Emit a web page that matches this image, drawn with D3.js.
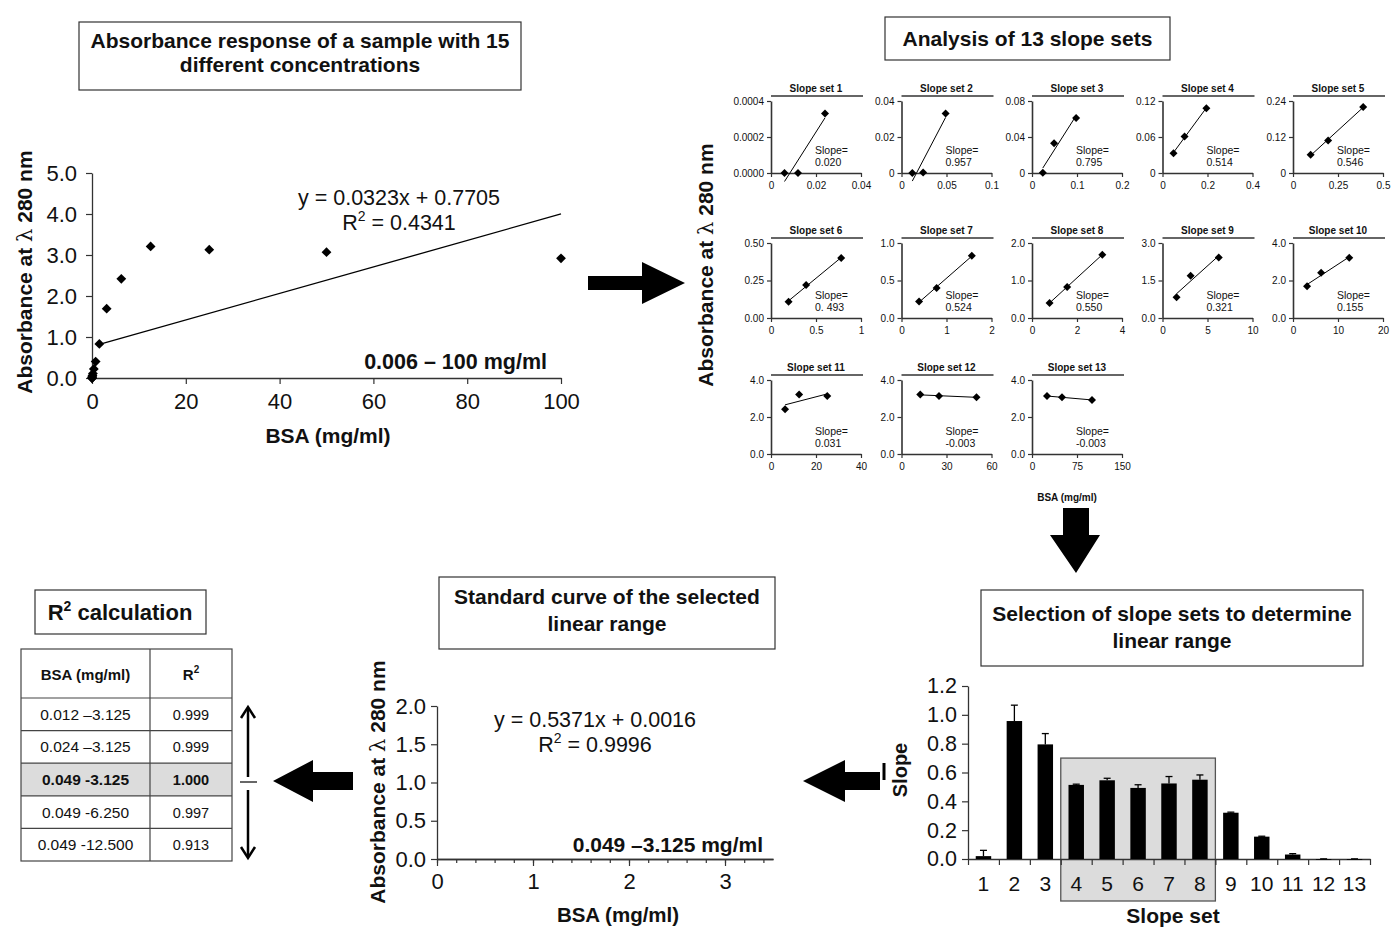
<!DOCTYPE html>
<html>
<head>
<meta charset="utf-8">
<script src="https://cdn.jsdelivr.net/npm/d3@7"></script>
<style>
body { margin: 0; background: #fff; }
svg { font-family: "Liberation Sans", Arial, sans-serif; }
</style>
</head>
<body>
<svg id="fig" width="1392" height="928"></svg>
<script>
// 15 BSA concentrations (mg/ml) and absorbance at 280 nm
var conc = [0.006, 0.012, 0.024, 0.049, 0.098, 0.195, 0.39, 0.78, 1.5625, 3.125, 6.25, 12.5, 25, 50, 100];
var absorbance = [0, 0, 0.00033, 0.033, 0.061, 0.108, 0.22, 0.40, 0.83, 1.69, 2.42, 3.21, 3.13, 3.07, 2.92];
var fullFit = {slope: 0.0323, intercept: 0.7705, from: 1.5625, to: 100};

// slope sets (3 consecutive points each)
var setNames = ["Slope set 1", "Slope set 2", "Slope set 3", "Slope set 4", "Slope set 5", "Slope set 6", "Slope set 7",
  "Slope set 8", "Slope set 9", "Slope set 10", "Slope set 11", "Slope set 12", "Slope set 13"];
var setSlopeText = ["0.020", "0.957", "0.795", "0.514", "0.546", "0. 493", "0.524", "0.550", "0.321", "0.155", "0.031", "-0.003", "-0.003"];
var setXMax = [0.04, 0.1, 0.2, 0.4, 0.5, 1, 2, 4, 10, 20, 40, 60, 150];
var setXTicks = [[0, 0.02, 0.04], [0, 0.05, 0.1], [0, 0.1, 0.2], [0, 0.2, 0.4], [0, 0.25, 0.5], [0, 0.5, 1], [0, 1, 2],
  [0, 2, 4], [0, 5, 10], [0, 10, 20], [0, 20, 40], [0, 30, 60], [0, 75, 150]];
var setYMax = [0.0004, 0.04, 0.08, 0.12, 0.24, 0.5, 1, 2, 3, 4, 4, 4, 4];
var setYTicks = [["0.0000", "0.0002", "0.0004"], ["0", "0.02", "0.04"], ["0", "0.04", "0.08"], ["0", "0.06", "0.12"],
  ["0", "0.12", "0.24"], ["0.00", "0.25", "0.50"], ["0.0", "0.5", "1.0"], ["0.0", "1.0", "2.0"], ["0.0", "1.5", "3.0"],
  ["0.0", "2.0", "4.0"], ["0.0", "2.0", "4.0"], ["0.0", "2.0", "4.0"], ["0.0", "2.0", "4.0"]];

// mean slope per set with error
var setIds = [1, 2, 3, 4, 5, 6, 7, 8, 9, 10, 11, 12, 13];
var meanSlope = [0.020, 0.957, 0.795, 0.514, 0.546, 0.493, 0.524, 0.550, 0.321, 0.155, 0.031, -0.003, -0.003];
var slopeErr = [0.04, 0.11, 0.075, 0.005, 0.014, 0.022, 0.048, 0.033, 0.004, 0.003, 0.006, 0.001, 0.001];
var selectedSets = [4, 8];

// standard curve of selected range
var stdFit = {slope: 0.5371, intercept: 0.0016, r2: "0.9996"};

// R2 table
var tableRanges = ["0.012 \u20133.125", "0.024 \u20133.125", "0.049 -3.125", "0.049 -6.250", "0.049 -12.500"];
var tableR2 = ["0.999", "0.999", "1.000", "0.997", "0.913"];
var bestRow = 2;

var svg = d3.select("#fig");
var ink = "#111", axisInk = "#333";

function styleAxis(sel, size) {
  sel.select(".domain").attr("stroke", axisInk).attr("stroke-width", 1.3);
  sel.selectAll(".tick line").attr("stroke", axisInk).attr("stroke-width", 1.2);
  sel.selectAll(".tick text").attr("font-size", size).attr("fill", ink).attr("font-family", "Liberation Sans, Arial, sans-serif");
}

function diamonds(g, pts, xs, ys, size) {
  g.selectAll(null).data(pts).enter().append("path")
    .attr("d", d3.symbol(d3.symbolSquare, size))
    .attr("transform", function(d) { return "translate(" + xs(d[0]) + "," + ys(d[1]) + ") rotate(45)"; })
    .attr("fill", "#000");
}

function textBox(x, y, w, h, lines, size, base, gap) {
  svg.append("rect").attr("x", x).attr("y", y).attr("width", w).attr("height", h)
    .attr("fill", "#fff").attr("stroke", "#333").attr("stroke-width", 1.2);
  lines.forEach(function(l, i) {
    svg.append("text").attr("x", x + w / 2).attr("y", base + i * gap).attr("text-anchor", "middle")
      .attr("font-size", size).attr("font-weight", "bold").attr("fill", ink).text(l);
  });
}

function blockArrow(pts) {
  svg.append("polygon").attr("points", pts.map(function(p) { return p.join(","); }).join(" ")).attr("fill", "#000");
}

function rotLabel(x, y, size) {
  var t = svg.append("text").attr("transform", "translate(" + x + "," + y + ") rotate(-90)")
    .attr("text-anchor", "middle").attr("font-size", size).attr("font-weight", "bold").attr("fill", ink);
  t.append("tspan").text("Absorbance at ");
  t.append("tspan").attr("font-weight", "normal").attr("font-family", "DejaVu Serif, serif").text("\u03bb");
  t.append("tspan").text(" 280 nm");
}

function r2Text(x, y, size, value) {
  var t = svg.append("text").attr("x", x).attr("y", y).attr("text-anchor", "middle").attr("font-size", size).attr("fill", ink);
  t.append("tspan").text("R");
  t.append("tspan").attr("dy", -9).attr("font-size", size * 0.65).text("2");
  t.append("tspan").attr("dy", 9).text(" = " + value);
}

// ---------- top-left: full range ----------
textBox(79, 22, 442, 68, ["Absorbance response of a sample with 15", "different concentrations"], 21, 48, 24);

var x1 = d3.scaleLinear().domain([0, 100]).range([92, 561]);
var y1 = d3.scaleLinear().domain([0, 5]).range([378, 173]);
svg.append("g").attr("transform", "translate(0,378)")
  .call(d3.axisBottom(x1).tickValues([0, 20, 40, 60, 80, 100]).tickSize(6).tickSizeOuter(0).tickPadding(9))
  .call(styleAxis, 22);
svg.append("g").attr("transform", "translate(92,0)")
  .call(d3.axisLeft(y1).tickValues([0, 1, 2, 3, 4, 5]).tickFormat(d3.format(".1f")).tickSize(6).tickSizeOuter(0).tickPadding(9))
  .call(styleAxis, 22);
svg.append("path")
  .attr("d", d3.line()([[x1(fullFit.from), y1(fullFit.slope * fullFit.from + fullFit.intercept)],
                        [x1(fullFit.to), y1(fullFit.slope * fullFit.to + fullFit.intercept)]]))
  .attr("stroke", "#000").attr("stroke-width", 1.3).attr("fill", "none");
diamonds(svg.append("g"), conc.map(function(c, i) { return [c, absorbance[i]]; }), x1, y1, 48);
svg.append("text").attr("x", 399).attr("y", 205).attr("text-anchor", "middle").attr("font-size", 21.5).attr("fill", ink)
  .text("y = " + fullFit.slope + "x + " + fullFit.intercept);
r2Text(399, 230, 21.5, "0.4341");
svg.append("text").attr("x", 547).attr("y", 369).attr("text-anchor", "end").attr("font-size", 21.5)
  .attr("font-weight", "bold").attr("fill", ink).text("0.006 \u2013 100 mg/ml");
svg.append("text").attr("x", 328).attr("y", 443).attr("text-anchor", "middle").attr("font-size", 21)
  .attr("font-weight", "bold").attr("fill", ink).text("BSA (mg/ml)");
rotLabel(32, 272, 21);

blockArrow([[588, 276], [642, 276], [642, 262], [685, 283], [642, 304], [642, 290], [588, 290]]);

// ---------- top-right: 13 slope sets ----------
textBox(885, 17, 285, 43, ["Analysis of 13 slope sets"], 21, 46, 0);
rotLabel(713, 265, 21);

var rowTop = [101, 243, 380], rowBottom = [173, 318, 454];
setNames.forEach(function(name, i) {
  var row = Math.floor(i / 5), col = i % 5;
  var left = 771 + col * 130.5, width = 90;
  var top = rowTop[row], bottom = rowBottom[row];
  var xs = d3.scaleLinear().domain([0, setXMax[i]]).range([left, left + width]);
  var ys = d3.scaleLinear().domain([0, setYMax[i]]).range([bottom, top]);
  var g = svg.append("g");
  var pts = conc.slice(i, i + 3).map(function(c, j) { return [c, absorbance[i + j]]; });

  g.append("g").attr("transform", "translate(0," + bottom + ")")
    .call(d3.axisBottom(xs).tickValues(setXTicks[i]).tickSize(4).tickSizeOuter(0).tickPadding(5)
      .tickFormat(function(d) { return String(+d.toFixed(6)); }))
    .call(styleAxis, 10);
  var yv = [0, setYMax[i] / 2, setYMax[i]];
  g.append("g").attr("transform", "translate(" + left + ",0)")
    .call(d3.axisLeft(ys).tickValues(yv).tickSize(4).tickSizeOuter(0).tickPadding(3)
      .tickFormat(function(d, k) { return setYTicks[i][k]; }))
    .call(styleAxis, 10);
  g.selectAll(".domain").attr("stroke-width", 1.6);

  // least squares trend line over the set's x range
  var mx = d3.mean(pts, function(d) { return d[0]; }), my = d3.mean(pts, function(d) { return d[1]; });
  var b = d3.sum(pts, function(d) { return (d[0] - mx) * (d[1] - my); }) / d3.sum(pts, function(d) { return (d[0] - mx) * (d[0] - mx); });
  var a = my - b * mx;
  var xr = d3.extent(pts, function(d) { return d[0]; });
  g.append("path").attr("d", d3.line()(xr.map(function(x) { return [xs(x), ys(a + b * x)]; })))
    .attr("stroke", "#000").attr("stroke-width", 1).attr("fill", "none");
  diamonds(g, pts, xs, ys, 32);

  g.append("line").attr("x1", left).attr("x2", left + width + 2).attr("y1", top - 5).attr("y2", top - 5)
    .attr("stroke", "#333").attr("stroke-width", 1.6);
  g.append("text").attr("x", left + width / 2).attr("y", top - 9).attr("text-anchor", "middle")
    .attr("font-size", 10).attr("font-weight", "bold").attr("fill", ink).text(name);
  g.append("text").attr("x", left + 44).attr("y", bottom - 19).attr("font-size", 10.5).attr("fill", ink).text("Slope=");
  g.append("text").attr("x", left + 44).attr("y", bottom - 7).attr("font-size", 10.5).attr("fill", ink).text(setSlopeText[i]);
});
svg.append("text").attr("x", 1067).attr("y", 501).attr("text-anchor", "middle").attr("font-size", 10)
  .attr("font-weight", "bold").attr("fill", ink).text("BSA (mg/ml)");

blockArrow([[1063, 508], [1089, 508], [1089, 535], [1100, 535], [1076, 573], [1050, 535], [1063, 535]]);

// ---------- bottom-right: slope bar chart ----------
textBox(981, 590, 382, 76, ["Selection of slope sets to determine", "linear range"], 21, 621, 27);

var xb = d3.scaleBand().domain(setIds).range([968, 1370]).paddingInner(0.5).paddingOuter(0.25);
var xt = d3.scaleLinear().domain([0, 13]).range([968, 1370]);
var yb = d3.scaleLinear().domain([0, 1.2]).range([859, 686]);

svg.append("rect")
  .attr("x", xt(selectedSets[0] - 1)).attr("y", yb(0.7))
  .attr("width", xt(selectedSets[1]) - xt(selectedSets[0] - 1)).attr("height", 901 - yb(0.7))
  .attr("fill", "#dcdcdc").attr("stroke", "#555").attr("stroke-width", 1.3);

svg.append("g").attr("transform", "translate(968,0)")
  .call(d3.axisLeft(yb).tickValues([0, 0.2, 0.4, 0.6, 0.8, 1.0, 1.2]).tickFormat(d3.format(".1f")).tickSize(6).tickSizeOuter(0).tickPadding(5))
  .call(styleAxis, 21.5);
svg.append("g").attr("transform", "translate(0,859)")
  .call(d3.axisBottom(xt).tickValues(d3.range(14)).tickFormat("").tickSize(6).tickSizeOuter(0))
  .call(styleAxis, 21);
svg.append("g").selectAll("text").data(setIds).enter().append("text")
  .attr("x", function(d) { return xb(d) + xb.bandwidth() / 2; }).attr("y", 891)
  .attr("text-anchor", "middle").attr("font-size", 21).attr("fill", ink).text(function(d) { return d; });

var bars = svg.append("g");
bars.selectAll("rect").data(setIds).enter().append("rect")
  .attr("x", function(d) { return xb(d); })
  .attr("y", function(d, i) { return yb(Math.max(meanSlope[i], 0)); })
  .attr("width", xb.bandwidth())
  .attr("height", function(d, i) { return Math.max(Math.abs(yb(meanSlope[i]) - yb(0)), 0.8); })
  .attr("fill", "#000");
bars.selectAll("line.err").data(setIds).enter().append("line")
  .attr("x1", function(d) { return xb(d) + xb.bandwidth() / 2; })
  .attr("x2", function(d) { return xb(d) + xb.bandwidth() / 2; })
  .attr("y1", function(d, i) { return yb(Math.max(meanSlope[i], 0)); })
  .attr("y2", function(d, i) { return yb(Math.max(meanSlope[i], 0) + slopeErr[i]); })
  .attr("stroke", "#000").attr("stroke-width", 1.3);
bars.selectAll("line.cap").data(setIds).enter().append("line")
  .attr("x1", function(d) { return xb(d) + xb.bandwidth() / 2 - 3.5; })
  .attr("x2", function(d) { return xb(d) + xb.bandwidth() / 2 + 3.5; })
  .attr("y1", function(d, i) { return yb(Math.max(meanSlope[i], 0) + slopeErr[i]); })
  .attr("y2", function(d, i) { return yb(Math.max(meanSlope[i], 0) + slopeErr[i]); })
  .attr("stroke", "#000").attr("stroke-width", 1.3);

svg.append("text").attr("transform", "translate(907,770) rotate(-90)").attr("text-anchor", "middle")
  .attr("font-size", 20).attr("font-weight", "bold").attr("fill", ink).text("Slope");
svg.append("line").attr("x1", 884).attr("x2", 884).attr("y1", 763).attr("y2", 780).attr("stroke", "#000").attr("stroke-width", 3);
svg.append("text").attr("x", 1173).attr("y", 923).attr("text-anchor", "middle").attr("font-size", 21)
  .attr("font-weight", "bold").attr("fill", ink).text("Slope set");

blockArrow([[803, 781], [845, 760], [845, 772], [880, 772], [880, 790], [845, 790], [845, 802]]);

// ---------- bottom-middle: standard curve ----------
textBox(439, 577, 336, 72, ["Standard curve of the selected", "linear range"], 21, 604, 27);

var xs2 = d3.scaleLinear().domain([0, 3.5]).range([437, 773]);
var ys2 = d3.scaleLinear().domain([0, 2]).range([859, 706]);
svg.append("g").attr("transform", "translate(0,859)")
  .call(d3.axisBottom(xs2).tickValues(d3.range(0, 3.5, 0.2)).tickFormat("").tickSize(4).tickSizeOuter(0))
  .call(styleAxis, 22);
svg.append("g").attr("transform", "translate(0,859)")
  .call(d3.axisBottom(xs2).tickValues([0, 1, 2, 3]).tickFormat(d3.format("d")).tickSize(7).tickSizeOuter(0).tickPadding(7))
  .call(styleAxis, 22);
svg.append("g").attr("transform", "translate(437,0)")
  .call(d3.axisLeft(ys2).tickValues([0, 0.5, 1, 1.5, 2]).tickFormat(d3.format(".1f")).tickSize(6).tickSizeOuter(0).tickPadding(5))
  .call(styleAxis, 22);
svg.append("text").attr("x", 595).attr("y", 727).attr("text-anchor", "middle").attr("font-size", 21.5).attr("fill", ink)
  .text("y = " + stdFit.slope + "x + " + stdFit.intercept);
r2Text(595, 752, 21.5, stdFit.r2);
svg.append("text").attr("x", 763).attr("y", 852).attr("text-anchor", "end").attr("font-size", 21)
  .attr("font-weight", "bold").attr("fill", ink).text("0.049 \u20133.125 mg/ml");
svg.append("text").attr("x", 618).attr("y", 922).attr("text-anchor", "middle").attr("font-size", 20.5)
  .attr("font-weight", "bold").attr("fill", ink).text("BSA (mg/ml)");
rotLabel(385, 782, 21);

blockArrow([[273, 781], [313, 760], [313, 772], [353, 772], [353, 790], [313, 790], [313, 802]]);

// ---------- bottom-left: R2 table ----------
var rt = svg.append("g");
rt.append("rect").attr("x", 35).attr("y", 590).attr("width", 171).attr("height", 44)
  .attr("fill", "#fff").attr("stroke", "#333").attr("stroke-width", 1.2);
var rtt = rt.append("text").attr("x", 120).attr("y", 620).attr("text-anchor", "middle").attr("font-size", 22)
  .attr("font-weight", "bold").attr("fill", ink);
rtt.append("tspan").text("R");
rtt.append("tspan").attr("dy", -9).attr("font-size", 14).text("2");
rtt.append("tspan").attr("dy", 9).text(" calculation");

var colX = [21, 150, 232], headTop = 649, headBottom = 698, rowH = 32.6;
var tbl = svg.append("g");
tbl.selectAll("rect.hl").data([bestRow]).enter().append("rect")
  .attr("x", colX[0]).attr("y", function(d) { return headBottom + d * rowH; })
  .attr("width", colX[2] - colX[0]).attr("height", rowH).attr("fill", "#dcdcdc");
tbl.append("rect").attr("x", colX[0]).attr("y", headTop).attr("width", colX[2] - colX[0])
  .attr("height", headBottom - headTop + rowH * tableRanges.length).attr("fill", "none").attr("stroke", "#444").attr("stroke-width", 1.2);
tbl.append("line").attr("x1", colX[1]).attr("x2", colX[1]).attr("y1", headTop)
  .attr("y2", headBottom + rowH * tableRanges.length).attr("stroke", "#444").attr("stroke-width", 1.2);
tbl.selectAll("line.row").data(tableRanges).enter().append("line")
  .attr("x1", colX[0]).attr("x2", colX[2])
  .attr("y1", function(d, i) { return headBottom + i * rowH; }).attr("y2", function(d, i) { return headBottom + i * rowH; })
  .attr("stroke", "#444").attr("stroke-width", 1.2);
tbl.append("text").attr("x", (colX[0] + colX[1]) / 2).attr("y", 680).attr("text-anchor", "middle")
  .attr("font-size", 15).attr("font-weight", "bold").attr("fill", ink).text("BSA (mg/ml)");
var hr = tbl.append("text").attr("x", (colX[1] + colX[2]) / 2).attr("y", 680).attr("text-anchor", "middle")
  .attr("font-size", 15).attr("font-weight", "bold").attr("fill", ink);
hr.append("tspan").text("R");
hr.append("tspan").attr("dy", -7).attr("font-size", 10).text("2");
tableRanges.forEach(function(r, i) {
  var yy = headBottom + i * rowH + rowH / 2 + 5.5;
  var w = i === bestRow ? "bold" : "normal";
  tbl.append("text").attr("x", (colX[0] + colX[1]) / 2).attr("y", yy).attr("text-anchor", "middle")
    .attr("font-size", 15.5).attr("font-weight", w).attr("fill", ink).text(r);
  tbl.append("text").attr("x", (colX[1] + colX[2]) / 2).attr("y", yy).attr("text-anchor", "middle")
    .attr("font-size", 14.5).attr("font-weight", w).attr("fill", ink).text(tableR2[i]);
});

// up/down arrows beside table
var arr = svg.append("g").attr("stroke", "#000").attr("stroke-width", 2.5).attr("fill", "none");
arr.append("line").attr("x1", 248).attr("x2", 248).attr("y1", 777).attr("y2", 708);
arr.append("path").attr("d", "M241,718 L248,707 L255,718");
arr.append("line").attr("x1", 248).attr("x2", 248).attr("y1", 790).attr("y2", 857);
arr.append("path").attr("d", "M241,847 L248,858 L255,847");
arr.append("line").attr("x1", 240).attr("x2", 257).attr("y1", 782).attr("y2", 782).attr("stroke-width", 1.2);
</script>
</body>
</html>
